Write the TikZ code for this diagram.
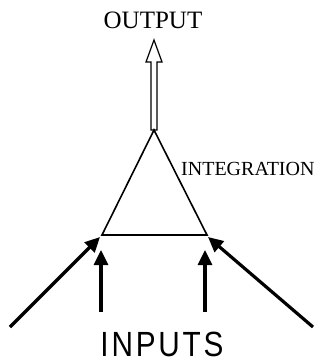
\documentclass[tikz,border=0pt]{standalone}
\usepackage{fontspec}
\setmainfont{Liberation Serif}
\setsansfont{Liberation Sans}
\newfontfamily\inputsfont[LetterSpace=8,FakeStretch=0.85]{Liberation Sans}
\usetikzlibrary{arrows.meta}
\begin{document}
\begin{tikzpicture}[x=1pt,y=-1pt,>={Triangle[length=15pt,width=14pt]}]
\useasboundingbox (0,0) rectangle (324,362);
\tikzset{inarrow/.style={line width=3.2pt,->}}
% triangle
\coordinate (top) at (154,130);
\coordinate (bl) at (102,235);
\coordinate (br) at (207,235);
\draw[line width=1.6pt,line join=miter] (top)--(bl)--(br)--cycle;
% output arrow (hollow)
\node (out) at (153,20) {\fontsize{25}{28}\selectfont OUTPUT};
\draw[line width=1.2pt] (top)++(-3,0) -- ++(0,-68) -- ++(-5,0) -- (154,40) -- (162,62) -- ++(-5,0) -- ++(0,68) -- cycle;
% labels
\node[anchor=base west,inner sep=0pt] (integ) at (181,175) {\fontsize{20}{24}\selectfont INTEGRATION};
\node[anchor=base,inner sep=0pt] (inp) at (162,356) {\inputsfont\fontsize{35}{38}\selectfont INPUTS};
% inputs
\coordinate (a1) at (10,327);
\coordinate (a2) at (101,312);
\coordinate (a3) at (205,312);
\coordinate (a4) at (313,327);
\draw[inarrow] (a1) -- (100,237);
\draw[inarrow] (a2) -- (101,250);
\draw[inarrow] (a3) -- (205,250);
\draw[inarrow] (a4) -- (208,237);
\end{tikzpicture}
\end{document}
